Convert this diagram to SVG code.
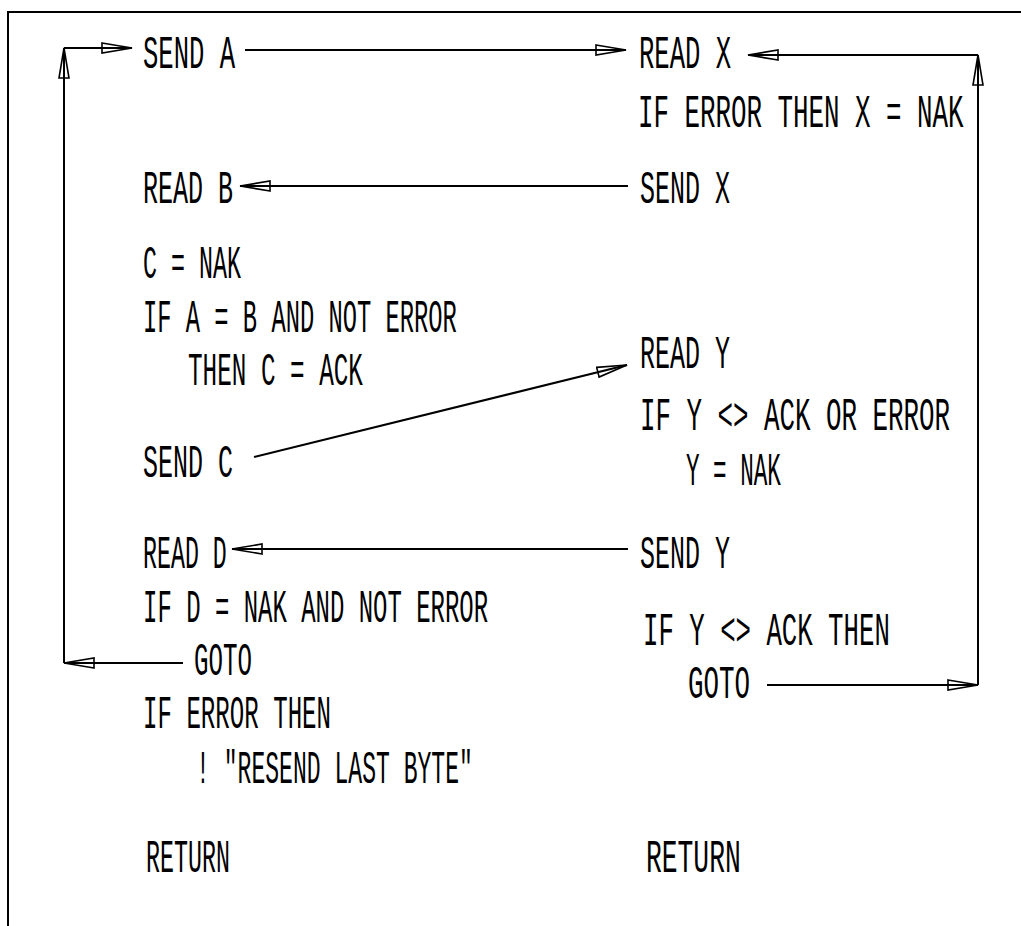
<svg xmlns="http://www.w3.org/2000/svg" width="1021" height="926" viewBox="0 0 1021 926">
<defs>
<style>
.t{font-family:"Liberation Mono","DejaVu Sans Mono",monospace;font-size:47px;fill:#000}
.c{stroke:#000;stroke-width:2;fill:none}
</style>
<marker id="ah" markerUnits="userSpaceOnUse" markerWidth="34" markerHeight="14" refX="31" refY="6" orient="auto" viewBox="0 0 34 14">
<path d="M1,1 L31,6 L1,11 Z" fill="none" stroke="#000" stroke-width="1.6"/>
</marker>
</defs>
<rect width="1021" height="926" fill="#fff"/>
<path d="M8,926 V12 H1021" class="c"/>
<g id="connectors">
<line class="c" x1="245" y1="50" x2="626" y2="50" marker-end="url(#ah)"/>
<line class="c" x1="183" y1="663" x2="64" y2="663" marker-end="url(#ah)"/>
<line class="c" x1="64" y1="663" x2="64" y2="48" marker-end="url(#ah)"/>
<line class="c" x1="64" y1="48" x2="132" y2="48" marker-end="url(#ah)"/>
<line class="c" x1="628" y1="186" x2="240" y2="186" marker-end="url(#ah)"/>
<line class="c" x1="254" y1="457" x2="627" y2="365" marker-end="url(#ah)"/>
<line class="c" x1="628" y1="549" x2="232" y2="549" marker-end="url(#ah)"/>
<line class="c" x1="767" y1="685" x2="978" y2="685" marker-end="url(#ah)"/>
<line class="c" x1="978" y1="685" x2="978" y2="55" marker-end="url(#ah)"/>
<line class="c" x1="978" y1="55" x2="748" y2="55" marker-end="url(#ah)"/>
</g>
<g id="left" class="t">
<text transform="translate(143,68) scale(0.544,1)">SEND A</text>
<text transform="translate(143,203) scale(0.532,1)">READ B</text>
<text transform="translate(143,278) scale(0.496,1)">C = NAK</text>
<text transform="translate(143,332) scale(0.506,1)">IF A = B AND NOT ERROR</text>
<text transform="translate(188,385) scale(0.517,1)">THEN C = ACK</text>
<text transform="translate(143,477) scale(0.532,1)">SEND C</text>
<text transform="translate(143,568) scale(0.495,1)">READ D</text>
<text transform="translate(143,622) scale(0.51,1)">IF D = NAK AND NOT ERROR</text>
<text transform="translate(194,675) scale(0.514,1)">GOTO</text>
<text transform="translate(143,728) scale(0.513,1)">IF ERROR THEN</text>
<text transform="translate(196,783) scale(0.491,1)">! "RESEND LAST BYTE"</text>
<text transform="translate(146,872) scale(0.496,1)">RETURN</text>
</g>
<g id="right" class="t">
<text transform="translate(639,68) scale(0.544,1)">READ X</text>
<text transform="translate(638,127) scale(0.55,1)">IF ERROR THEN X = NAK</text>
<text transform="translate(640,203) scale(0.532,1)">SEND X</text>
<text transform="translate(640,368) scale(0.532,1)">READ Y</text>
<text transform="translate(640,430) scale(0.55,1)">IF Y &lt;&gt; ACK OR ERROR</text>
<text transform="translate(686,485) scale(0.481,1)">Y = NAK</text>
<text transform="translate(640,568) scale(0.532,1)">SEND Y</text>
<text transform="translate(643,645) scale(0.547,1)">IF Y &lt;&gt; ACK THEN</text>
<text transform="translate(688,698) scale(0.55,1)">GOTO</text>
<text transform="translate(646,872) scale(0.56,1)">RETURN</text>
</g>
</svg>
